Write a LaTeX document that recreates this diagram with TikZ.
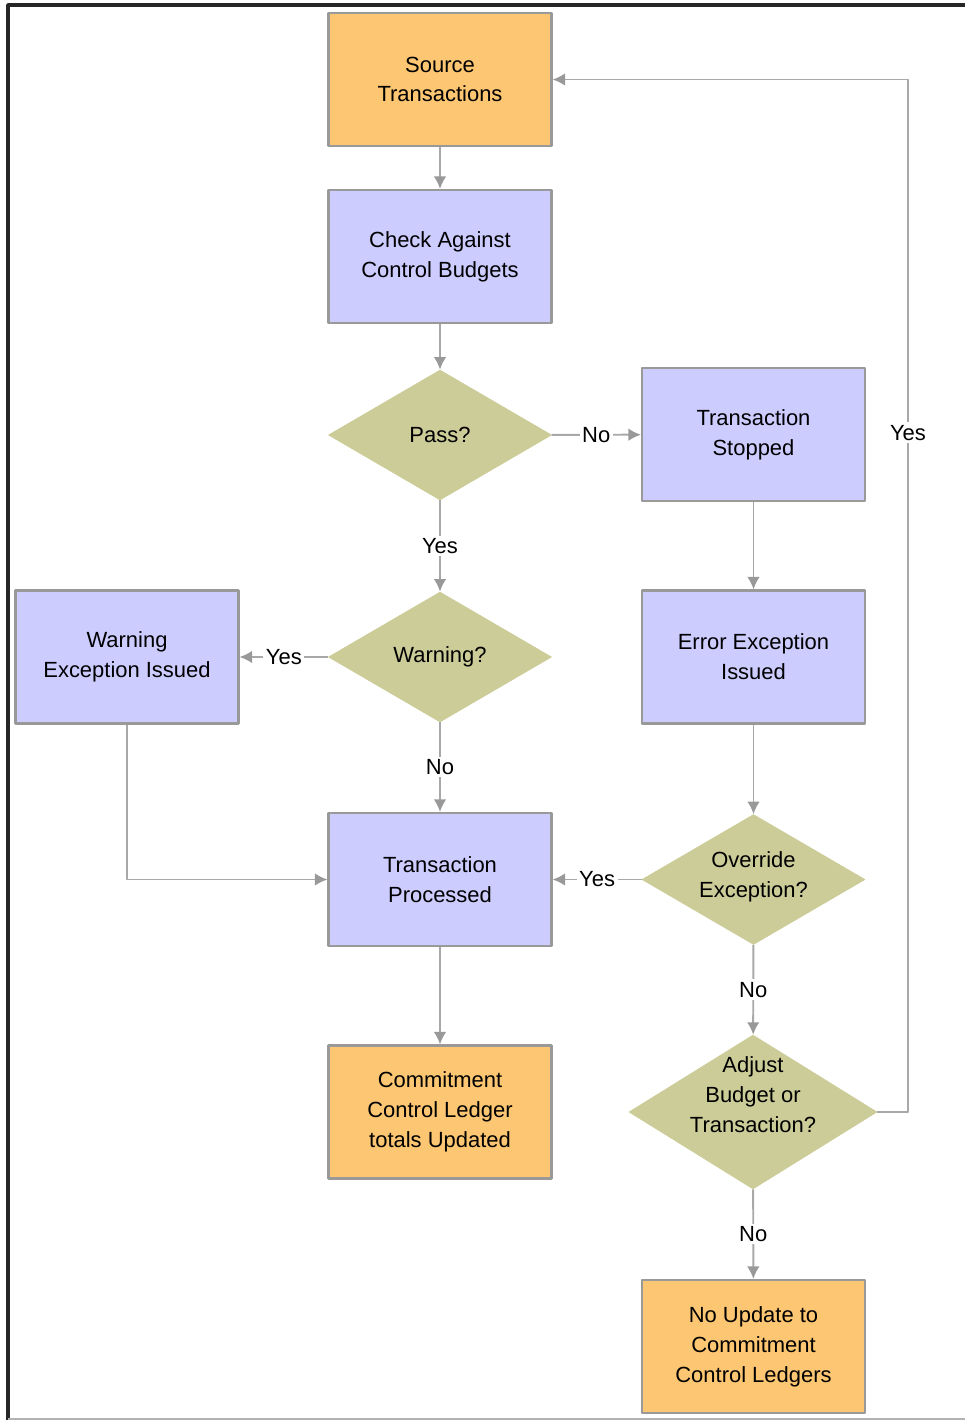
\documentclass[tikz,border=0pt]{standalone}
\usepackage{fontspec}
\setmainfont{Liberation Sans}
\usetikzlibrary{shapes.geometric,arrows.meta}
\definecolor{srcorange}{HTML}{FDC672}
\definecolor{steplav}{HTML}{CCCCFF}
\definecolor{askolive}{HTML}{CCCC99}
\definecolor{edgegray}{HTML}{999999}
\definecolor{linkgray}{HTML}{A8A8A8}
\begin{document}
\begin{tikzpicture}[x=0.02cm, y=-0.02cm, line join=round,
  font=\fontsize{12.5}{17}\selectfont,
  box/.style={draw=edgegray, line width=1.2pt, minimum width=4.46cm, minimum height=2.66cm, align=center, inner sep=2pt},
  endbox/.style={box, fill=srcorange},
  stepbox/.style={box, fill=steplav},
  ask/.style={diamond, draw=askolive, fill=askolive, minimum width=4.46cm, minimum height=2.6cm, inner sep=0pt, align=center},
  link/.style={draw=linkgray, line width=1.1pt, -{Latex[length=2.5mm,width=2.5mm,color=edgegray]}},
  lbl/.style={fill=white, inner sep=1.5pt, midway}]
\def\W{965} \def\H{1420}
\useasboundingbox (0,0) rectangle (\W,\H);
\draw[line width=2pt, black!85] (8,\H) -- (8,5) -- (\W,5);
\draw[line width=1pt, black!30] (8,1419) -- (\W,1419);
% nodes
\node[endbox]  (src)  at (440,79.5)   {Source\\Transactions};
\node[stepbox] (chk)  at (440,256.5)  {Check Against\\Control Budgets};
\node[ask]     (pass) at (440,435)    {Pass?};
\node[stepbox] (stop) at (753.5,434.5){Transaction\\Stopped};
\node[ask]     (warn) at (440,657)    {Warning?};
\node[stepbox] (wiss) at (127,657)    {Warning\\Exception Issued};
\node[stepbox] (eiss) at (753.5,657)  {Error Exception\\Issued};
\node[stepbox] (proc) at (440,879.5)  {Transaction\\Processed};
\node[ask]     (ovr)  at (753.5,879.5){};
\node[align=center] (ovrtext) at (753.5,877) {Override\\Exception?};
\node[endbox]  (upd)  at (440,1112)   {Commitment\\Control Ledger\\totals Updated};
\node[ask, minimum width=4.96cm, minimum height=3.08cm] (adj) at (753,1112) {};
\node[align=center] (adjtext) at (753,1095) {Adjust\\Budget or\\Transaction?};
\node[endbox]  (noup) at (753.5,1346.5){No Update to\\Commitment\\Control Ledgers};
% connectors
\draw[link] (src) -- (chk);
\draw[link] (chk) -- (pass);
\draw[link] (pass) -- node[lbl]{No} (stop);
\draw[link] (pass) -- node[lbl]{Yes} (warn);
\draw[link] (warn) -- node[lbl]{Yes} (wiss);
\draw[link] (warn) -- node[lbl]{No} (proc);
\draw[link] (stop) -- (eiss);
\draw[link] (eiss) -- (ovr);
\draw[link] (ovr) -- node[lbl]{Yes} (proc);
\draw[link] (ovr) -- node[lbl]{No} (adj);
\draw[link] (adj) -- node[lbl]{No} (noup);
\draw[link] (wiss.south) |- (proc.west);
\draw[link] (proc) -- (upd);
\coordinate (loopa) at (908,1112);
\coordinate (loopb) at (908,79.5);
\draw[link] (adj.east) -- (loopa) -- node[lbl, pos=0.658]{Yes} (loopb) -- (src.east);
\end{tikzpicture}
\end{document}
